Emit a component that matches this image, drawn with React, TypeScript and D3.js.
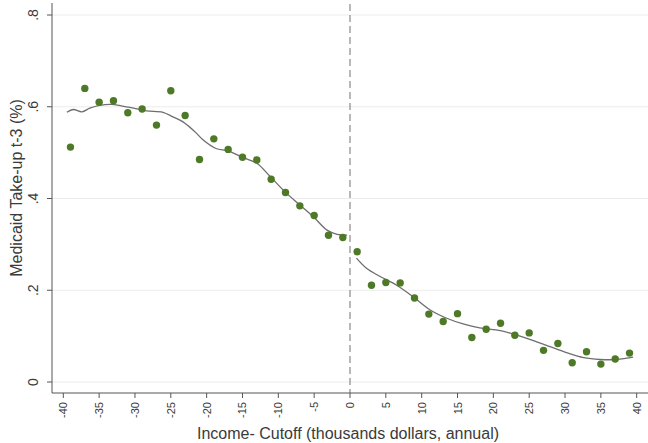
import React from 'react';
import * as d3 from 'd3';

// binned means (income minus cutoff, thousands) and take-up share
const binX = [-39, -37, -35, -33, -31, -29, -27, -25, -23, -21, -19, -17, -15, -13, -11, -9, -7, -5, -3, -1,
  1, 3, 5, 7, 9, 11, 13, 15, 17, 19, 21, 23, 25, 27, 29, 31, 33, 35, 37, 39];
const binY = [0.512, 0.640, 0.610, 0.613, 0.587, 0.595, 0.560, 0.635, 0.581, 0.485, 0.530, 0.507, 0.490, 0.484,
  0.442, 0.413, 0.384, 0.363, 0.320, 0.315,
  0.284, 0.211, 0.217, 0.216, 0.183, 0.148, 0.132, 0.149, 0.097, 0.115, 0.128, 0.102, 0.107, 0.069, 0.084,
  0.042, 0.066, 0.039, 0.050, 0.063];

// smoothed fit, left and right of the cutoff
const fitLeftX = [-39.5, -38.6, -37.4, -36.3, -34.9, -33.3, -31.9, -30.2, -28.4, -26.1, -24.7, -23.3, -21.4, -20.6,
  -18.7, -17, -14.9, -13, -11.2, -9.1, -7, -5.1, -3.2, -1.8, -0.4];
const fitLeftY = [0.588, 0.594, 0.589, 0.597, 0.603, 0.605, 0.602, 0.597, 0.591, 0.588, 0.578, 0.567, 0.542, 0.529,
  0.509, 0.504, 0.489, 0.477, 0.449, 0.415, 0.386, 0.360, 0.331, 0.322, 0.320];
const fitRightX = [0.9, 2.3, 4.2, 6.5, 8.8, 11.2, 13.5, 15.9, 18.1, 21, 23.3, 25.6, 27.9, 30.2, 32.6, 34.9, 37.2, 38.6, 39.5];
const fitRightY = [0.270, 0.248, 0.230, 0.211, 0.186, 0.157, 0.139, 0.126, 0.118, 0.112, 0.102, 0.090, 0.077, 0.064,
  0.053, 0.049, 0.049, 0.052, 0.054];

const xTicks = [-40, -35, -30, -25, -20, -15, -10, -5, 0, 5, 10, 15, 20, 25, 30, 35, 40];
const yTicks = [0, 0.2, 0.4, 0.6, 0.8];
const yTickLabels = ['0', '.2', '.4', '.6', '.8'];

const W = 648, H = 443;
const axisX = 52, axisY = 393;

export default function App() {
  const x = d3.scaleLinear().domain([-40, 40]).range([63.3, 636.7]);
  const y = d3.scaleLinear().domain([0, 0.8]).range([382, 15]);

  const line = d3.line<[number, number]>()
    .x(d => x(d[0]))
    .y(d => y(d[1]))
    .curve(d3.curveCatmullRom.alpha(0.5));

  const left = fitLeftX.map((v, i) => [v, fitLeftY[i]] as [number, number]);
  const right = fitRightX.map((v, i) => [v, fitRightY[i]] as [number, number]);

  const font = 'Liberation Sans, Arial, sans-serif';
  const txt = '#3a3a3a';

  return (
    <div style={{ position: 'absolute', left: 0, top: 0 }}>
      <svg width={W} height={H} style={{ display: 'block', background: '#fff' }}>
        {/* grid */}
        {yTicks.map(t =>
          <line key={'g' + t} x1={axisX} x2={W} y1={y(t)} y2={y(t)} stroke="#ececec" strokeWidth={1} />
        )}
        {/* cutoff */}
        <line x1={x(0)} x2={x(0)} y1={4} y2={axisY} stroke="#8a8a8a" strokeWidth={1.2} strokeDasharray="7,4" />

        {/* axes */}
        <line x1={axisX} x2={axisX} y1={3} y2={axisY} stroke="#555" strokeWidth={1} />
        <line x1={axisX} x2={W} y1={axisY} y2={axisY} stroke="#555" strokeWidth={1} />
        {yTicks.map((t, i) =>
          <g key={'y' + t}>
            <line x1={axisX - 5} x2={axisX} y1={y(t)} y2={y(t)} stroke="#555" />
            <text transform={`translate(38,${y(t)}) rotate(-90)`} textAnchor="middle"
              fontFamily={font} fontSize={14} fill={txt}>{yTickLabels[i]}</text>
          </g>
        )}
        {xTicks.map(t =>
          <g key={'x' + t}>
            <line x1={x(t)} x2={x(t)} y1={axisY} y2={axisY + 5} stroke="#555" />
            <text transform={`translate(${x(t) + 4},${axisY + 9}) rotate(-90)`} textAnchor="end"
              fontFamily={font} fontSize={11} fill={txt}>{t}</text>
          </g>
        )}

        {/* fit lines */}
        <path d={line(left) || ''} fill="none" stroke="#6e6e6e" strokeWidth={1.3} />
        <path d={line(right) || ''} fill="none" stroke="#6e6e6e" strokeWidth={1.3} />

        {/* bin means */}
        {binX.map((v, i) =>
          <circle key={'p' + i} cx={x(v)} cy={y(binY[i])} r={3.7} fill="#4e7a27" />
        )}

        {/* titles */}
        <text x={348} y={439} textAnchor="middle" fontFamily={font} fontSize={16} fill={txt}>
          Income- Cutoff (thousands dollars, annual)
        </text>
        <text transform="translate(22,188) rotate(-90)" textAnchor="middle" fontFamily={font} fontSize={16} fill={txt}>
          Medicaid Take-up t-3 (%)
        </text>
      </svg>
    </div>
  );
}
